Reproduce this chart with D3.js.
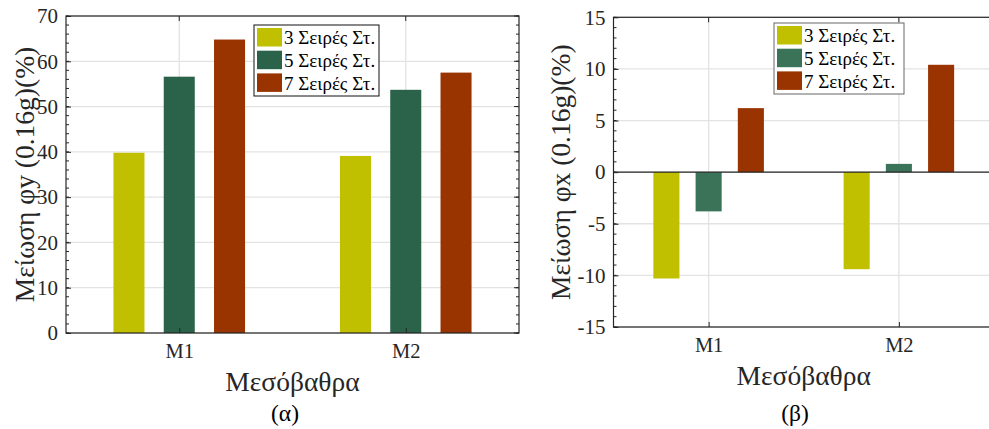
<!DOCTYPE html>
<html>
<head>
<meta charset="utf-8">
<script src="https://cdn.jsdelivr.net/npm/d3@7"></script>
<style>
  body { margin: 0; background: #fff; }
  svg { display: block; font-family: 'Liberation Serif', 'DejaVu Serif', serif; }
</style>
</head>
<body>
<div id="chart"></div>
<script>
// two grouped bar panels: reduction of phi_y and phi_x per pier (M1, M2)

var categories = ['M1', 'M2']
var seriesNames = ['3 Σειρές Στ.', '5 Σειρές Στ.', '7 Σειρές Στ.']

// values, one row per category
var phiY = [[39.8, 56.6, 64.8], [39.1, 53.7, 57.5]]
var phiX = [[-10.3, -3.8, 6.2], [-9.4, 0.8, 10.4]]

var yTicksA = [0, 10, 20, 30, 40, 50, 60, 70]
var yTicksB = [-15, -10, -5, 0, 5, 10, 15]

var W = 989
var H = 429
var axisColor = '#262626'
var serif = "'Liberation Serif', 'DejaVu Serif', serif"

var svg = d3.select('#chart')
  .append('svg')
  .attr('width', W)
  .attr('height', H)

function drawPanel (p) {
  var g = svg.append('g')

  var x = d3.scaleLinear().domain([0.5, categories.length + 0.5]).range([p.left, p.right])
  var y = d3.scaleLinear().domain(p.yDomain).range([p.bottom, p.top])

  // grid first, bars go over it
  g.selectAll('.gy')
    .data(p.yTicks)
    .enter().append('line')
    .attr('x1', p.left).attr('x2', p.right)
    .attr('y1', function (d) { return y(d) })
    .attr('y2', function (d) { return y(d) })
    .attr('stroke', '#e3e3e3')
    .attr('stroke-width', 1.3)

  g.selectAll('.gx')
    .data(categories)
    .enter().append('line')
    .attr('x1', function (d, i) { return x(i + 1) })
    .attr('x2', function (d, i) { return x(i + 1) })
    .attr('y1', p.top).attr('y2', p.bottom)
    .attr('stroke', '#e3e3e3')
    .attr('stroke-width', 1.3)

  // bars
  var offset = 0.222
  var bw = 0.137
  categories.forEach(function (c, i) {
    g.selectAll('.bar' + i)
      .data(p.values[i])
      .enter().append('rect')
      .attr('x', function (d, j) { return x(i + 1 + (j - 1) * offset - bw / 2) })
      .attr('width', x(bw) - x(0))
      .attr('y', function (d) { return y(Math.max(0, d)) })
      .attr('height', function (d) { return Math.abs(y(d) - y(0)) })
      .attr('fill', function (d, j) { return p.colors[j] })
  })

  // baseline at zero when the axis spans negatives
  if (p.yDomain[0] < 0) {
    g.append('line')
      .attr('x1', p.left).attr('x2', p.right)
      .attr('y1', y(0)).attr('y2', y(0))
      .attr('stroke', axisColor)
      .attr('stroke-width', 1.2)
  }

  // left axis with inner ticks
  var yAxisL = d3.axisLeft(y).tickValues(p.yTicks).tickSize(-5).tickPadding(8)
    .tickFormat(function (d) { return String(d) })
  var ga = g.append('g').attr('transform', 'translate(' + p.left + ',0)').call(yAxisL)
  ga.attr('font-family', null).attr('font-size', null)
  ga.select('.domain').remove()
  ga.selectAll('line').attr('stroke', axisColor)
  ga.selectAll('text').attr('fill', axisColor).style('font-size', '21px')
    .style('font-family', serif)

  // minor ticks
  var minor = d3.range(p.yDomain[0], p.yDomain[1] + 0.001, p.minorStep)
  var sides = p.mirror ? [p.left, p.right] : [p.left]
  sides.forEach(function (sx, k) {
    g.selectAll('.mn' + k)
      .data(minor)
      .enter().append('line')
      .attr('x1', sx).attr('x2', sx + (k === 0 ? 3 : -3))
      .attr('y1', function (d) { return y(d) })
      .attr('y2', function (d) { return y(d) })
      .attr('stroke', axisColor)
  })
  if (p.mirror) {
    g.selectAll('.mj')
      .data(p.yTicks)
      .enter().append('line')
      .attr('x1', p.right).attr('x2', p.right - 5)
      .attr('y1', function (d) { return y(d) })
      .attr('y2', function (d) { return y(d) })
      .attr('stroke', axisColor)
  }

  // bottom axis, category labels
  var xAxis = d3.axisBottom(x).tickValues([1, 2]).tickSize(-5).tickPadding(10)
    .tickFormat(function (d) { return categories[d - 1] })
  var gx = g.append('g').attr('transform', 'translate(0,' + p.bottom + ')').call(xAxis)
  gx.attr('font-family', null).attr('font-size', null)
  gx.select('.domain').remove()
  gx.selectAll('line').attr('stroke', axisColor)
  gx.selectAll('text').attr('fill', axisColor).style('font-size', '20.5px')
    .style('font-family', serif)

  // top ticks
  g.selectAll('.tt')
    .data(categories)
    .enter().append('line')
    .attr('x1', function (d, i) { return x(i + 1) })
    .attr('x2', function (d, i) { return x(i + 1) })
    .attr('y1', p.top).attr('y2', p.top + 5)
    .attr('stroke', axisColor)

  // box
  g.append('rect')
    .attr('x', p.left).attr('y', p.top)
    .attr('width', p.right - p.left).attr('height', p.bottom - p.top)
    .attr('fill', 'none')
    .attr('stroke', axisColor)
    .attr('stroke-width', 1.2)

  // labels
  g.append('text')
    .attr('transform', 'translate(' + p.ylabX + ',' + ((p.top + p.bottom) / 2) + ') rotate(-90)')
    .attr('text-anchor', 'middle')
    .attr('dy', '0.35em')
    .attr('fill', axisColor)
    .style('font-size', '27.5px')
    .text(p.ylabel)

  g.append('text')
    .attr('x', (p.left + p.right) / 2)
    .attr('y', p.bottom + 58)
    .attr('text-anchor', 'middle')
    .attr('fill', axisColor)
    .style('font-size', '27.5px')
    .text('Μεσόβαθρα')

  g.append('text')
    .attr('x', p.capX)
    .attr('y', 421)
    .attr('text-anchor', 'middle')
    .attr('fill', '#000')
    .style('font-size', '23.5px')
    .text(p.caption)

  // legend
  var lg = g.append('g').attr('transform', 'translate(' + p.legX + ',' + p.legY + ')')
  lg.append('rect')
    .attr('width', p.legW).attr('height', 71)
    .attr('fill', '#fff')
    .attr('stroke', p.legStroke)
    .attr('stroke-width', 1)
  var item = lg.selectAll('.it')
    .data(seriesNames)
    .enter().append('g')
    .attr('transform', function (d, i) { return 'translate(3,' + (3 + i * 22.7) + ')' })
  item.append('rect')
    .attr('width', 25).attr('height', 18.5)
    .attr('fill', function (d, i) { return p.colors[i] })
  item.append('text')
    .attr('x', 27).attr('y', 9.5)
    .attr('dy', '0.35em')
    .attr('fill', '#000')
    .style('font-size', '19px')
    .text(function (d) { return d })
}

drawPanel({
  left: 66, right: 519, top: 16, bottom: 333,
  yDomain: [0, 70], yTicks: yTicksA, minorStep: 2, mirror: true,
  values: phiY,
  colors: ['#c0bf00', '#2a6349', '#993300'],
  ylabel: 'Μείωση φy (0.16g)(%)', ylabX: 24,
  caption: '(α)', capX: 285,
  legX: 254, legY: 25, legW: 125, legStroke: '#111'
})

drawPanel({
  left: 613.5, right: 994, top: 17.3, bottom: 327,
  yDomain: [-15, 15], yTicks: yTicksB, minorStep: 1, mirror: false,
  values: phiX,
  colors: ['#c0bf00', '#3a7358', '#993300'],
  ylabel: 'Μείωση φx (0.16g)(%)', ylabX: 560,
  caption: '(β)', capX: 795,
  legX: 774, legY: 23, legW: 130, legStroke: '#666'
})
</script>
</body>
</html>
